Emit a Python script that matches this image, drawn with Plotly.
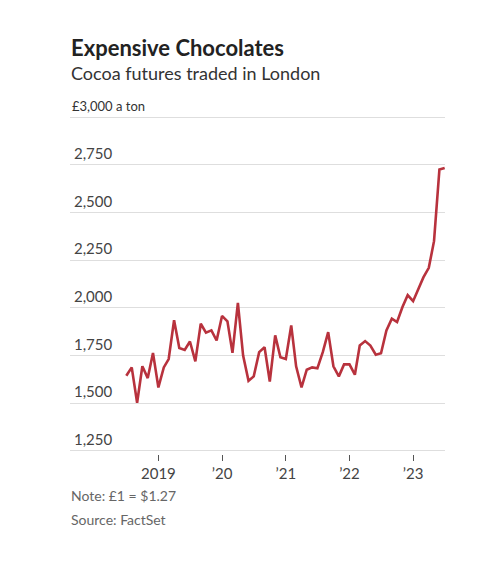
import plotly.graph_objects as go
import pandas as pd

# ---- data ----
dates = pd.date_range("2018-07-01", "2023-07-01", freq="MS")
prices = [
    1644, 1688, 1503, 1694, 1632, 1764,            # Jul-Dec 2018
    1583, 1688, 1732, 1935, 1790, 1780,            # 2019 H1
    1824, 1720, 1917, 1870, 1882, 1829,            # 2019 H2
    1958, 1930, 1764, 2026, 1750, 1618,            # 2020 H1
    1641, 1768, 1794, 1614, 1856, 1741,            # 2020 H2
    1732, 1908, 1694, 1583, 1676, 1688,            # 2021 H1
    1683, 1768, 1873, 1694, 1641, 1704,            # 2021 H2
    1704, 1650, 1803, 1826, 1803, 1755,            # 2022 H1
    1762, 1882, 1944, 1926, 2005, 2067,            # 2022 H2
    2035, 2105, 2160, 2210, 2350, 2726, 2734,      # 2023 Jan-Jul
]
y_ticks = [1250, 1500, 1750, 2000, 2250, 2500, 2750, 3000]
y_tick_labels = ["1,250", "1,500", "1,750", "2,000", "2,250", "2,500", "2,750", "£3,000"]
x_tick_dates = ["2019-01-01", "2020-01-01", "2021-01-01", "2022-01-01", "2023-01-01"]
x_tick_labels = ["2019", "’20", "’21", "’22", "’23"]

FONT = "Lato"
W, H = 478, 577
OFF = 8  # page body margin
PX_PER_UNIT = 47.3 / 250
L, R = 70 - OFF, 445 - OFF
T, B = 100 - OFF, 454 - OFF
Y_TOP = 3000 + (117 - 100) / PX_PER_UNIT
Y_BOT = 1250 - (454 - 451) / PX_PER_UNIT

fig = go.Figure()
fig.add_trace(go.Scatter(
    x=dates, y=prices, mode="lines",
    line=dict(color="#b8323d", width=2.6),
    hoverinfo="skip",
))

def px_to_paper_x(px):
    return (px - OFF - L) / (R - L)

annotations = []
for v, lab in zip(y_ticks, y_tick_labels):
    if v == 3000:
        annotations.append(dict(
            x=px_to_paper_x(70), xref="paper", xanchor="left",
            y=v, yref="y", yanchor="bottom", yshift=1,
            text=lab + " a ton", showarrow=False,
            font=dict(family=FONT, size=13, color="#333"),
        ))
    else:
        annotations.append(dict(
            x=px_to_paper_x(114.5), xref="paper", xanchor="right",
            y=v, yref="y", yanchor="bottom", yshift=1,
            text=lab, showarrow=False,
            font=dict(family=FONT, size=15, color="#444"),
        ))

def top_text(text, ypx, size, color, bold=False):
    ypx -= OFF
    return dict(
        x=px_to_paper_x(69), xref="paper", xanchor="left",
        y=1 + (T - ypx) / (B - T), yref="paper", yanchor="middle",
        text=f"<b>{text}</b>" if bold else text, showarrow=False,
        font=dict(family=FONT, size=size, color=color),
    )

annotations.append(top_text("Expensive Chocolates", 47, 22, "#222", bold=True))
annotations.append(top_text("Cocoa futures traded in London", 73, 18, "#333"))
annotations.append(top_text("Note: £1 = $1.27", 496, 14, "#666"))
annotations.append(top_text("Source: FactSet", 519, 14, "#666"))

fig.update_layout(
    width=W, height=H,
    margin=dict(l=L, r=W - R, t=T, b=H - B, pad=0),
    paper_bgcolor="white", plot_bgcolor="white",
    showlegend=False,
    annotations=annotations,
    xaxis=dict(
        type="date",
        range=["2017-08-12", "2023-07-03"],
        tickvals=x_tick_dates, ticktext=x_tick_labels,
        ticks="outside", ticklen=6, tickwidth=1, tickcolor="#555",
        showgrid=False, showline=False, zeroline=False,
        tickfont=dict(family=FONT, size=15, color="#444"),
    ),
    yaxis=dict(
        range=[Y_BOT, Y_TOP],
        tickvals=y_ticks, showticklabels=False,
        showgrid=True, gridcolor="#dedede", gridwidth=1,
        zeroline=False, showline=False, ticks="",
    ),
)

fig.write_html("out.html")
